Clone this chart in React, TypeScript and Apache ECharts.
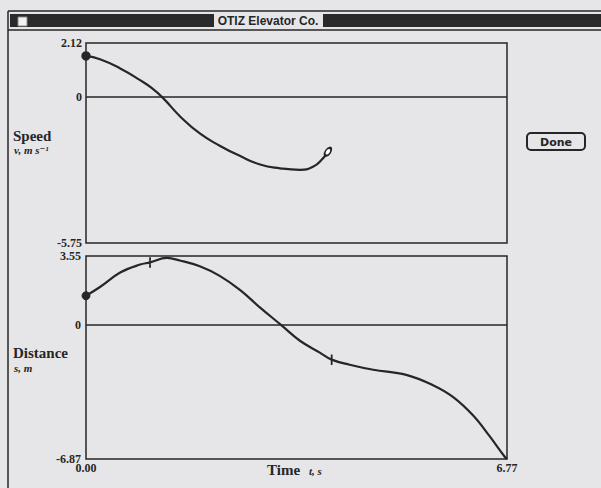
import React, { useEffect, useRef } from "react";
import * as echarts from "echarts";

const speedT = [0, 0.225, 0.55, 0.87, 1.05, 1.24, 1.51, 1.83, 2.15, 2.48, 2.8, 3.12, 3.44, 3.65, 3.81, 3.89];
const speedV = [1.61, 1.48, 1.12, 0.66, 0.36, -0.05, -0.76, -1.44, -1.92, -2.33, -2.66, -2.81, -2.87, -2.75, -2.42, -2.16];

const distT = [0, 0.225, 0.55, 0.87, 1.03, 1.3, 1.51, 1.83, 2.15, 2.48, 2.8, 3.14, 3.44, 3.76, 3.95, 4.24, 4.62, 5.15, 5.58, 5.9, 6.23, 6.49, 6.73, 6.77];
const distS = [1.51, 1.96, 2.7, 3.11, 3.22, 3.45, 3.32, 3.02, 2.53, 1.8, 0.9, 0, -0.8, -1.41, -1.77, -2.03, -2.29, -2.55, -3.08, -3.68, -4.65, -5.7, -6.74, -6.87];
const distTickIdx = [4, 14];

const timeRange = [0, 6.77];
const speedRange = [-5.75, 2.12];
const distRange = [-6.87, 3.55];

const INK = "#262626";
const BG = "#e6e6e8";

export default function App() {
  const ref = useRef<HTMLDivElement>(null);
  useEffect(() => {
    if (!ref.current) return;
    const chart = echarts.init(ref.current, undefined, { renderer: "svg" });
    const axisLabelStyle = {
      fontFamily: "Liberation Serif",
      fontWeight: "bold" as const,
      fontSize: 12,
      color: INK,
    };
    const speedData = speedT.map((t, i) => {
      if (i === 0) return { value: [t, speedV[i]], symbol: "circle", symbolSize: 8 };
      if (i === speedT.length - 1)
        return { value: [t, speedV[i]], symbol: "emptyCircle", symbolSize: [5, 9], symbolRotate: -35 };
      return { value: [t, speedV[i]], symbol: "none" };
    });
    const distData = distT.map((t, i) => {
      if (i === 0) return { value: [t, distS[i]], symbol: "circle", symbolSize: 8 };
      if (distTickIdx.includes(i)) return { value: [t, distS[i]], symbol: "rect", symbolSize: [1.3, 8] };
      return { value: [t, distS[i]], symbol: "none" };
    });
    const zeroLine = {
      silent: true,
      symbol: "none",
      label: { show: false },
      lineStyle: { color: INK, width: 1.5, type: "solid" },
      data: [{ yAxis: 0 }],
    };
    chart.setOption({
      animation: false,
      backgroundColor: BG,
      grid: [
        { left: 86, top: 43, width: 421, height: 200, show: true, borderColor: INK, borderWidth: 1.5, backgroundColor: "transparent" },
        { left: 86, top: 256, width: 421, height: 203, show: true, borderColor: INK, borderWidth: 1.5, backgroundColor: "transparent" },
      ],
      xAxis: [
        {
          type: "value", gridIndex: 0, min: timeRange[0], max: timeRange[1],
          axisLine: { show: false }, axisTick: { show: false }, axisLabel: { show: false }, splitLine: { show: false },
        },
        {
          type: "value", gridIndex: 1, min: timeRange[0], max: timeRange[1],
          axisLine: { show: false }, axisTick: { show: false }, splitLine: { show: false },
          axisLabel: { ...axisLabelStyle, margin: 3, customValues: timeRange, formatter: (v: number) => v.toFixed(2) },
        },
      ],
      yAxis: [
        {
          type: "value", gridIndex: 0, min: speedRange[0], max: speedRange[1],
          axisLine: { show: false }, axisTick: { show: false }, splitLine: { show: false },
          axisLabel: { ...axisLabelStyle, margin: 4, customValues: [speedRange[0], 0, speedRange[1]], formatter: (v: number) => (v === 0 ? "0" : v.toFixed(2)) },
        },
        {
          type: "value", gridIndex: 1, min: distRange[0], max: distRange[1],
          axisLine: { show: false }, axisTick: { show: false }, splitLine: { show: false },
          axisLabel: { ...axisLabelStyle, margin: 5, customValues: [distRange[0], 0, distRange[1]], formatter: (v: number) => (v === 0 ? "0" : v.toFixed(2)) },
        },
      ],
      series: [
        {
          type: "line", xAxisIndex: 0, yAxisIndex: 0, smooth: 0.5, data: speedData,
          lineStyle: { color: INK, width: 2.2 }, itemStyle: { color: INK, borderColor: INK, borderWidth: 1.5 },
          markLine: zeroLine,
        },
        {
          type: "line", xAxisIndex: 1, yAxisIndex: 1, smooth: 0.4, data: distData,
          lineStyle: { color: INK, width: 2.2 }, itemStyle: { color: INK, borderColor: INK },
          markLine: zeroLine,
        },
      ],
      graphic: [
        // window frame
        { type: "line", shape: { x1: 8, y1: 11, x2: 601, y2: 11 }, style: { stroke: INK, lineWidth: 1.5 } },
        { type: "line", shape: { x1: 8, y1: 11, x2: 8, y2: 488 }, style: { stroke: INK, lineWidth: 1.5 } },
        { type: "rect", shape: { x: 10, y: 14, width: 591, height: 13 }, style: { fill: "#2a2a2a" } },
        { type: "line", shape: { x1: 8, y1: 30, x2: 601, y2: 30 }, style: { stroke: INK, lineWidth: 1.5 } },
        { type: "rect", shape: { x: 18, y: 17, width: 9, height: 9 }, style: { fill: "#f2f2f2", stroke: "#888", lineWidth: 1 } },
        { type: "rect", shape: { x: 214, y: 13, width: 109, height: 15 }, style: { fill: BG } },
        {
          type: "text", x: 268, y: 21,
          style: { text: "OTIZ Elevator Co.", fontFamily: "Liberation Sans", fontWeight: "bold", fontSize: 12, fill: INK, align: "center", verticalAlign: "middle" },
        },
        // axis titles
        { type: "text", x: 13, y: 128, style: { text: "Speed", fontFamily: "Liberation Serif", fontWeight: "bold", fontSize: 15, fill: INK } },
        { type: "text", x: 14, y: 144, style: { text: "v, m s⁻¹", fontFamily: "Liberation Serif, DejaVu Serif", fontWeight: "bold", fontStyle: "italic", fontSize: 11, fill: INK } },
        { type: "text", x: 13, y: 345, style: { text: "Distance", fontFamily: "Liberation Serif", fontWeight: "bold", fontSize: 15, fill: INK } },
        { type: "text", x: 14, y: 362, style: { text: "s, m", fontFamily: "Liberation Serif", fontWeight: "bold", fontStyle: "italic", fontSize: 11, fill: INK } },
        { type: "text", x: 267, y: 462, style: { text: "Time", fontFamily: "Liberation Serif", fontWeight: "bold", fontSize: 15, fill: INK } },
        { type: "text", x: 309, y: 465, style: { text: "t, s", fontFamily: "Liberation Serif", fontWeight: "bold", fontStyle: "italic", fontSize: 11, fill: INK } },
        // Done button
        { type: "rect", shape: { x: 527, y: 133, width: 58, height: 17, r: 4 }, style: { fill: BG, stroke: INK, lineWidth: 2 } },
        {
          type: "text", x: 556, y: 142,
          style: { text: "Done", fontFamily: "DejaVu Sans", fontWeight: "bold", fontSize: 11, fill: INK, align: "center", verticalAlign: "middle" },
        },
      ],
    });
    return () => chart.dispose();
  }, []);
  return <div ref={ref} style={{ position: "fixed", left: 0, top: 0, width: 601, height: 488 }} />;
}
